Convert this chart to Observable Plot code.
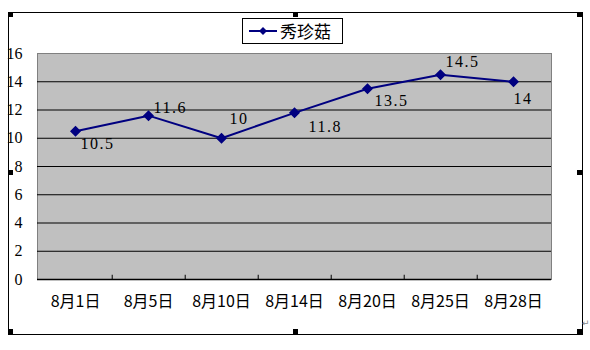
<!DOCTYPE html>
<html>
<head>
<meta charset="utf-8">
<script src="https://cdn.jsdelivr.net/npm/d3@7"></script>
<script src="https://cdn.jsdelivr.net/npm/@observablehq/plot@0.6"></script>
<style>
  html, body { margin: 0; padding: 0; background: #fff; }
  #wrap { position: relative; width: 590px; height: 350px; overflow: hidden; }
  #border { position: absolute; left: 8px; top: 12px; width: 573px; height: 321px; border: 1px solid #000; box-sizing: content-box; pointer-events: none; }
  .h { position: absolute; width: 5px; height: 5px; background: #000; }
  #legend { position: absolute; left: 242px; top: 18px; width: 99px; height: 24px; border: 1px solid #000; background: #fff;
            font-family: "Noto Sans CJK SC", sans-serif; font-size: 17px; line-height: 24px; }
  #legend svg { position: absolute; left: 5px; top: 5px; }
  #legend span { position: absolute; left: 37px; top: 0; }
  #ret { position: absolute; left: 582px; top: 318px; font-size: 9px; color: #888; font-family: "DejaVu Sans", sans-serif; }
  .vlabel text { letter-spacing: 1.5px; }
</style>
</head>
<body>
<div id="wrap">
  <div id="chart"></div>
  <div id="border"></div>
  <div class="h" style="left:8px;top:12px"></div>
  <div class="h" style="left:293px;top:12px"></div>
  <div class="h" style="left:577px;top:12px"></div>
  <div class="h" style="left:8px;top:170px"></div>
  <div class="h" style="left:577px;top:170px"></div>
  <div class="h" style="left:8px;top:329px"></div>
  <div class="h" style="left:293px;top:329px"></div>
  <div class="h" style="left:577px;top:329px"></div>
  <div id="ret">↵</div>
  <div id="legend"></div>
</div>
<script>
const categories = ["8月1日", "8月5日", "8月10日", "8月14日", "8月20日", "8月25日", "8月28日"];
const values = [10.5, 11.6, 10, 11.8, 13.5, 14.5, 14];
const yTicks = [0, 2, 4, 6, 8, 10, 12, 14, 16];
const seriesName = "秀珍菇";

const data = categories.map((c, i) => ({date: c, value: values[i]}));

const W = 590, H = 350, ML = 37, MR = 39, MT = 53, MB = 71;
const step = (W - ML - MR) / categories.length;
const navy = "#000080";

// label offsets (style), per point index
const labelOffsets = [
  {dx: 5, dy: 13}, {dx: 5, dy: -8}, {dx: 8, dy: -19}, {dx: 14, dy: 14},
  {dx: 7, dy: 12}, {dx: 5, dy: -13}, {dx: 0, dy: 17}
];

const serif = "'Liberation Serif', 'DejaVu Serif', serif";
const cjk = "'Noto Sans CJK SC', sans-serif";

const chart = Plot.plot({
  width: W, height: H,
  marginLeft: ML, marginRight: MR, marginTop: MT, marginBottom: MB,
  style: {background: "transparent", color: "#000"},
  x: {type: "point", domain: categories, padding: 0.5, axis: null},
  y: {domain: [0, 16], axis: null},
  marks: [
    Plot.frame({fill: "#c0c0c0", stroke: "#808080"}),
    Plot.ruleY(yTicks.filter(d => d > 0 && d < 16), {stroke: "#000", strokeWidth: 1}),
    Plot.ruleY([0], {stroke: "#000", strokeWidth: 1.5}),
    Plot.ruleX(categories.slice(0, -1), {x: d => d, y1: 0, y2: 0.3, dx: step / 2, stroke: "#000"}),
    Plot.axisY({ticks: yTicks, tickSize: 0, tickPadding: 15, fontSize: 16, fontFamily: serif, fill: "#000", label: null}),
    Plot.axisX({tickSize: 0, tickPadding: 16, fontSize: 16, fontFamily: cjk, fill: "#000", label: null}),
    Plot.line(data, {x: "date", y: "value", stroke: navy, strokeWidth: 2}),
    Plot.dot(data, {x: "date", y: "value", symbol: "diamond2", r: 4, fill: navy, stroke: navy}),
    ...data.map((d, i) => Plot.text([d], {
      x: "date", y: "value", text: v => String(v.value),
      textAnchor: "start", dx: labelOffsets[i].dx, dy: labelOffsets[i].dy,
      fontSize: 16, fontFamily: serif, fill: "#000", className: "vlabel"
    }))
  ]
});
document.getElementById("chart").appendChild(chart);

const lg = document.getElementById("legend");
lg.innerHTML = `<svg width="30" height="14"><line x1="1" y1="7" x2="29" y2="7" stroke="${navy}" stroke-width="2"/>` +
  `<path d="M15 3 L19 7 L15 11 L11 7 Z" fill="${navy}"/></svg><span></span>`;
lg.querySelector("span").textContent = seriesName;
</script>
</body>
</html>
